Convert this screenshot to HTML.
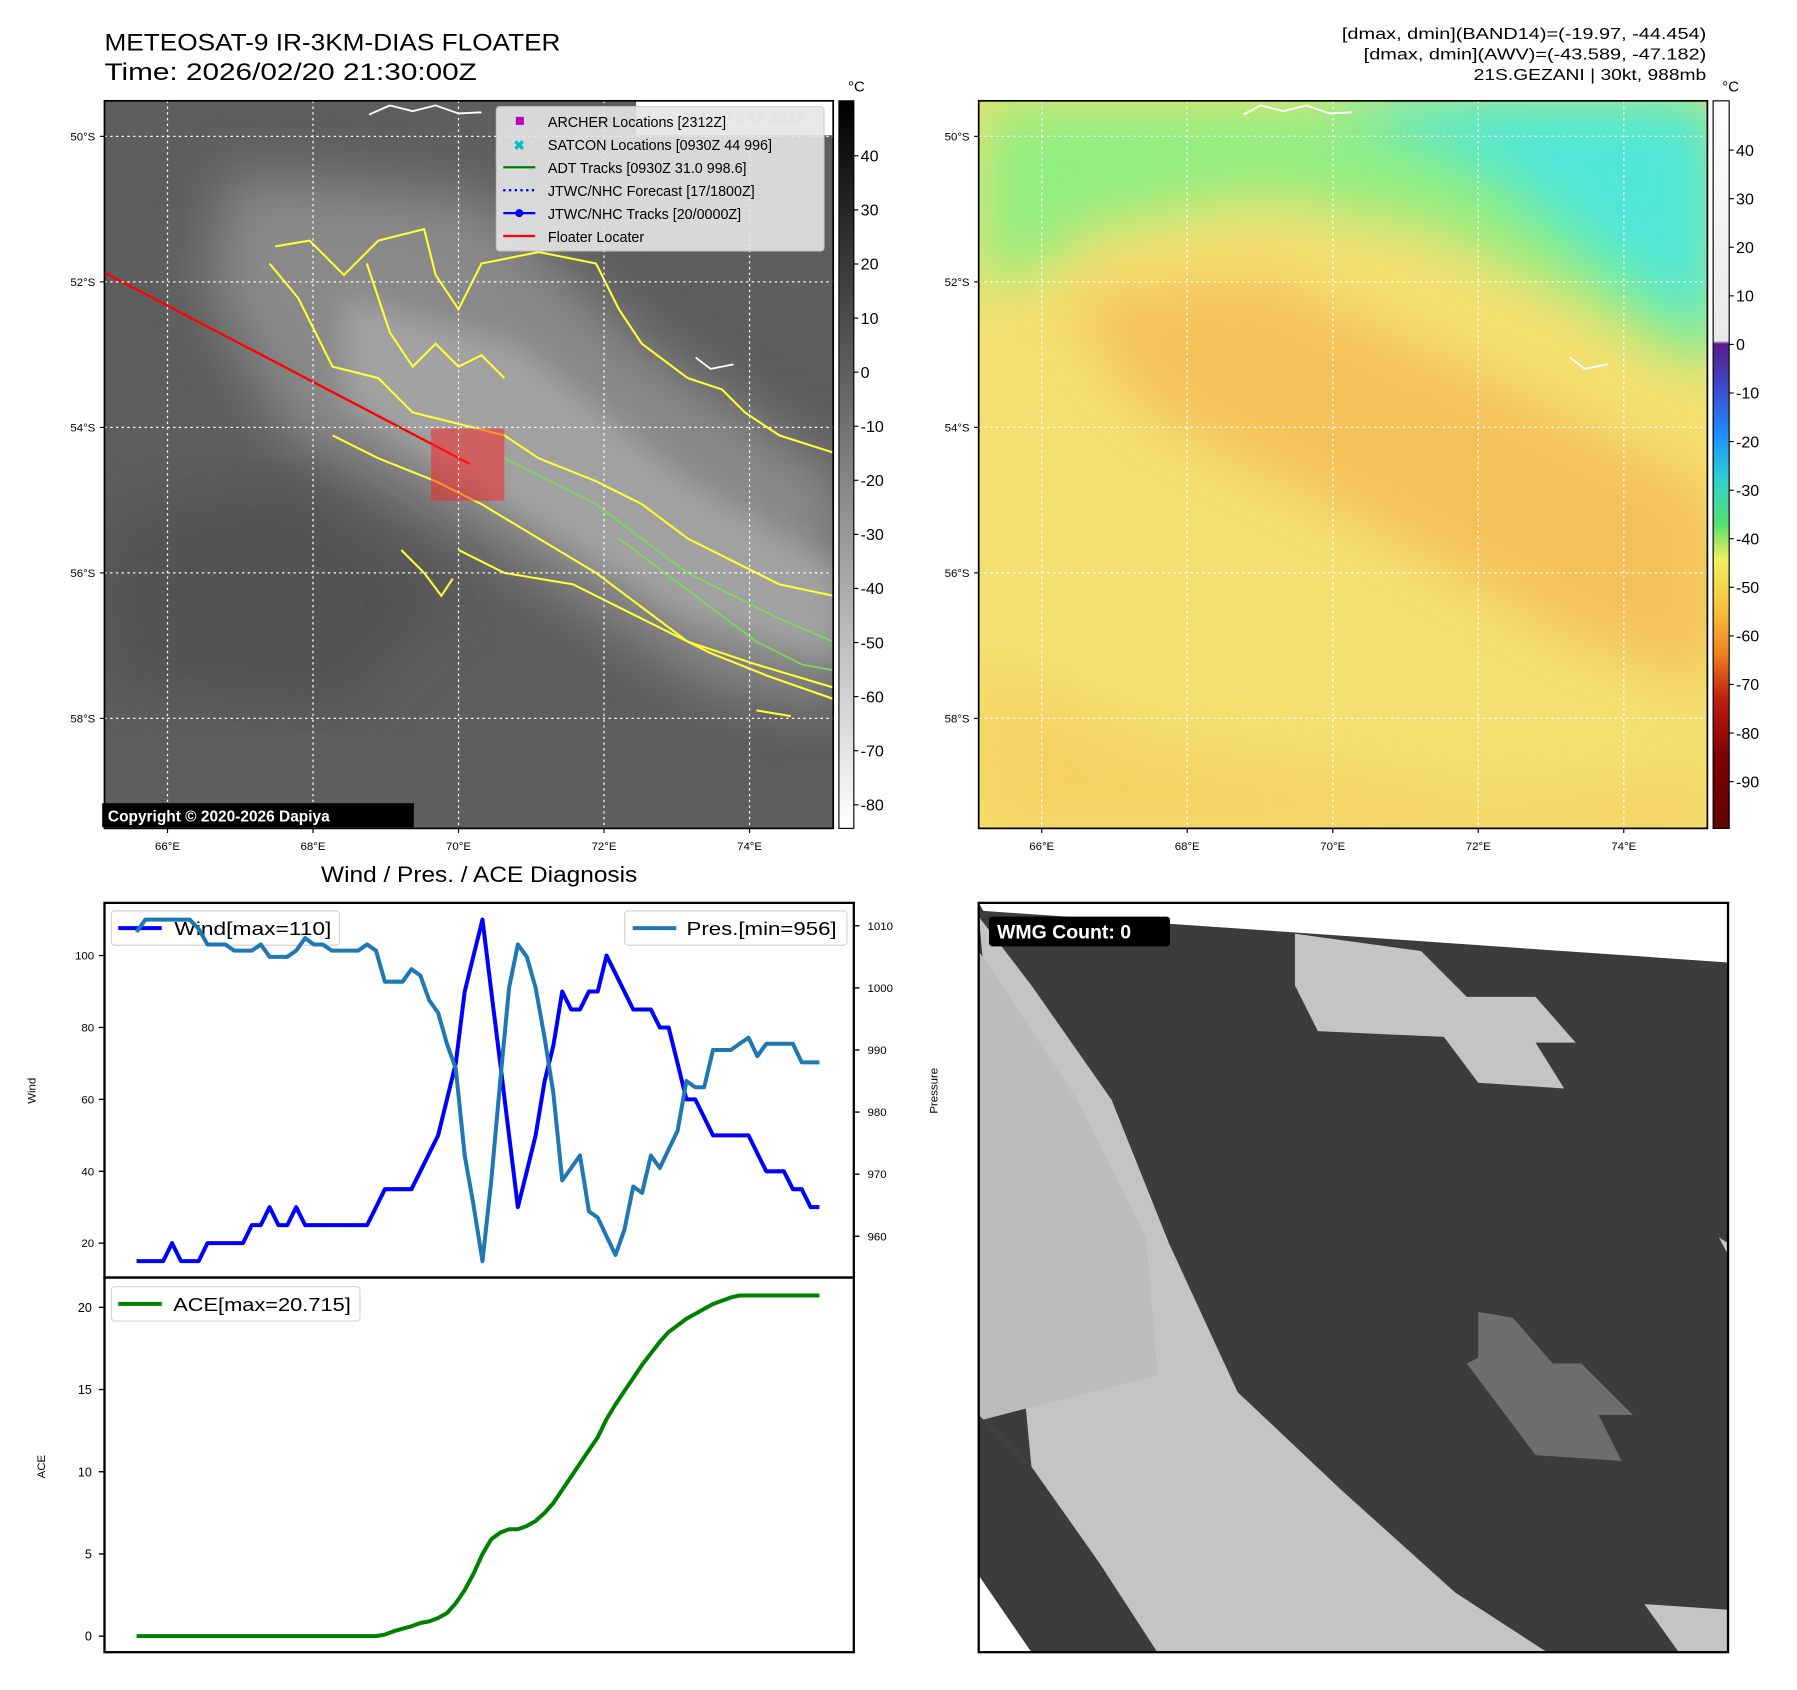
<!DOCTYPE html>
<html><head><meta charset="utf-8"><style>
html,body{margin:0;padding:0;background:#fff;}
svg{display:block;font-family:"Liberation Sans",sans-serif;}
</style></head><body>
<svg id="fig" width="1797" height="1690" viewBox="0 0 1568 1475" xmlns="http://www.w3.org/2000/svg">
<defs>
<linearGradient id="cbGray" x1="0" y1="0" x2="0" y2="1"><stop offset="0" stop-color="#000"/><stop offset="1" stop-color="#fff"/></linearGradient>
<linearGradient id="cbColor" x1="0" y1="0" x2="0" y2="1">
<stop offset="0" stop-color="#ffffff"/><stop offset="0.33" stop-color="#e8e8e8"/><stop offset="0.334" stop-color="#5a1a8a"/>
<stop offset="0.40" stop-color="#3a50d0"/><stop offset="0.46" stop-color="#1e90ff"/><stop offset="0.52" stop-color="#30d0d0"/>
<stop offset="0.58" stop-color="#50e070"/><stop offset="0.63" stop-color="#f0f060"/><stop offset="0.70" stop-color="#f8c040"/>
<stop offset="0.76" stop-color="#f08020"/><stop offset="0.82" stop-color="#c02010"/><stop offset="0.9" stop-color="#800000"/><stop offset="1" stop-color="#600000"/></linearGradient>
<filter id="blur20"><feGaussianBlur stdDeviation="25"/></filter>
<filter id="blur10"><feGaussianBlur stdDeviation="12"/></filter>
<clipPath id="clipL"><rect x="91" y="88" width="636" height="635"/></clipPath>
<clipPath id="clipR"><rect x="854" y="88" width="636" height="635"/></clipPath>
<clipPath id="clipB"><rect x="854" y="788" width="654" height="654"/></clipPath>
</defs>

<text x="91" y="44" font-size="21" textLength="398" lengthAdjust="spacingAndGlyphs">METEOSAT-9 IR-3KM-DIAS FLOATER</text>
<text x="91" y="70" font-size="21" textLength="325" lengthAdjust="spacingAndGlyphs">Time: 2026/02/20 21:30:00Z</text>
<g font-size="14" text-anchor="end">
<text x="1489" y="34" textLength="318" lengthAdjust="spacingAndGlyphs">[dmax, dmin](BAND14)=(-19.97, -44.454)</text>
<text x="1489" y="52" textLength="299" lengthAdjust="spacingAndGlyphs">[dmax, dmin](AWV)=(-43.589, -47.182)</text>
<text x="1489" y="70" textLength="203" lengthAdjust="spacingAndGlyphs">21S.GEZANI | 30kt, 988mb</text>
</g>

<!-- IR map -->
<g clip-path="url(#clipL)">
<rect x="91" y="88" width="636" height="635" fill="#5e5e5e"/>
<polygon points="200,150 420,170 560,300 740,420 740,620 620,600 420,470 250,380 180,250" fill="#8e8e8e" filter="url(#blur20)" opacity="0.9"/>
<polygon points="300,260 450,300 600,420 740,500 740,580 600,540 420,430 300,350" fill="#acacac" filter="url(#blur10)" opacity="0.7"/>
<polygon points="91,450 250,420 400,520 300,620 91,600" fill="#525252" filter="url(#blur20)"/>
<rect x="555" y="88" width="172" height="30" fill="#fff"/>
<text x="640" y="108" font-size="14" font-weight="bold" fill="#ccc" text-anchor="middle">© EUMETSAT 2026</text>
<g fill="none" stroke="#ffff33" stroke-width="1.8">
<path d="M240,215 L270,210 L300,240 L330,210 L370,200 L380,240 L400,270 L420,230 L470,220 L520,230 L540,270 L560,300 L600,330 L630,340 L650,360 L680,380 L727,395"/>
<path d="M235,230 L260,260 L290,320 L330,330 L360,360 L400,370 L440,380 L470,400 L520,420 L560,440 L600,470 L640,490 L680,510 L727,520"/>
<path d="M290,380 L330,400 L380,420 L420,440 L470,470 L520,500 L560,530 L600,560 L660,580 L727,600"/>
<path d="M400,480 L440,500 L500,510 L560,540 L620,570 L670,590 L727,610"/>
<path d="M320,230 L340,290 L360,320 L380,300 L400,320 L420,310 L440,330"/>
<path d="M350,480 L370,500 L385,520 L395,505"/>
<path d="M660,620 L690,625"/>
</g>
<g fill="none" stroke="#7ed957" stroke-width="1.5">
<path d="M440,400 L480,420 L520,440 L560,470 L600,500 L640,520 L680,540 L727,560"/>
<path d="M540,470 L580,500 L620,530 L660,560 L700,580 L727,585"/>
</g>
<g fill="none" stroke="#fff" stroke-width="1.6">
<path d="M322,100 L340,92 L360,97 L380,92 L400,99 L420,98"/>
<path d="M607,312 L620,322 L640,318"/>
</g>
<line x1="91" y1="238" x2="410" y2="405" stroke="#ff0000" stroke-width="2"/>
<rect x="376" y="374" width="64" height="63" fill="#ff2020" opacity="0.5"/>
<g stroke="#fff" stroke-width="1.1" stroke-dasharray="2,3">
<line x1="146" y1="88" x2="146" y2="723"/><line x1="273" y1="88" x2="273" y2="723"/><line x1="400" y1="88" x2="400" y2="723"/><line x1="527" y1="88" x2="527" y2="723"/><line x1="654" y1="88" x2="654" y2="723"/>
<line x1="91" y1="119" x2="727" y2="119"/><line x1="91" y1="246" x2="727" y2="246"/><line x1="91" y1="373" x2="727" y2="373"/><line x1="91" y1="500" x2="727" y2="500"/><line x1="91" y1="627" x2="727" y2="627"/>
</g>
</g>
<rect x="91" y="88" width="636" height="635" fill="none" stroke="#000" stroke-width="1.5"/>
<g>
<rect x="433" y="93" width="286" height="126" rx="3" fill="#e6e6e6" opacity="0.9" stroke="#ccc"/>
<g font-size="12.5" fill="#000">
<rect x="450" y="102" width="7" height="7" fill="#c000c0"/><text x="478" y="111">ARCHER Locations [2312Z]</text>
<text x="448" y="131" fill="#00c0c0" font-weight="bold" font-size="12">✖</text><text x="478" y="131">SATCON Locations [0930Z 44 996]</text>
<line x1="439" y1="146" x2="467" y2="146" stroke="#008000" stroke-width="2"/><text x="478" y="151">ADT Tracks [0930Z 31.0 998.6]</text>
<line x1="439" y1="166" x2="467" y2="166" stroke="#00f" stroke-width="2" stroke-dasharray="2,3"/><text x="478" y="171">JTWC/NHC Forecast [17/1800Z]</text>
<line x1="439" y1="186" x2="467" y2="186" stroke="#00f" stroke-width="2"/><circle cx="453" cy="186" r="3.5" fill="#00f"/><text x="478" y="191">JTWC/NHC Tracks [20/0000Z]</text>
<line x1="439" y1="206" x2="467" y2="206" stroke="#f00" stroke-width="2"/><text x="478" y="211">Floater Locater</text>
</g></g>
<g><rect x="89" y="701" width="272" height="21" fill="#000"/><text x="94" y="717" font-size="13.5" font-weight="bold" fill="#fff">Copyright © 2020-2026 Dapiya</text></g>
<rect x="732" y="88" width="13" height="635" fill="url(#cbGray)" stroke="#000"/>
<text x="740" y="80" font-size="13">°C</text>

<!-- AWV map -->
<g clip-path="url(#clipR)">
<rect x="854" y="88" width="636" height="635" fill="#f4e070"/>
<polygon points="854,88 1500,88 1500,330 1380,260 1250,200 1100,170 950,200 900,240 854,250" fill="#90ee80" filter="url(#blur20)"/>
<polygon points="1150,88 1500,88 1500,300 1400,230 1300,150" fill="#50e6d8" filter="url(#blur20)"/>
<polygon points="930,260 1100,240 1300,330 1500,430 1500,600 1380,560 1200,460 1000,360" fill="#f4b450" filter="url(#blur20)" opacity="0.7"/>
<polygon points="854,580 1000,650 1300,700 1500,680 1500,730 854,730" fill="#f4c858" filter="url(#blur20)" opacity="0.6"/>
<g fill="none" stroke="#fff" stroke-width="1.6"><path d="M1085,100 L1100,92 L1120,97 L1140,92 L1160,99 L1180,98"/><path d="M1370,312 L1383,322 L1403,318"/></g>
<g stroke="#fff" stroke-width="1.1" stroke-dasharray="2,3">
<line x1="909" y1="88" x2="909" y2="723"/><line x1="1036" y1="88" x2="1036" y2="723"/><line x1="1163" y1="88" x2="1163" y2="723"/><line x1="1290" y1="88" x2="1290" y2="723"/><line x1="1417" y1="88" x2="1417" y2="723"/>
<line x1="854" y1="119" x2="1490" y2="119"/><line x1="854" y1="246" x2="1490" y2="246"/><line x1="854" y1="373" x2="1490" y2="373"/><line x1="854" y1="500" x2="1490" y2="500"/><line x1="854" y1="627" x2="1490" y2="627"/>
</g></g>
<rect x="854" y="88" width="636" height="635" fill="none" stroke="#000" stroke-width="1.5"/>
<rect x="1495" y="88" width="14" height="635" fill="url(#cbColor)" stroke="#000"/>
<text x="1503" y="80" font-size="13">°C</text>

<g id="mapTicks" font-size="10"></g>

<!-- WMG panel -->
<g clip-path="url(#clipB)">
<rect x="854" y="788" width="654" height="654" fill="#3c3c3c"/>
<polygon points="854,788 1508,788 1508,840 858,795" fill="#fff"/>
<polygon points="854,800 900,860 970,960 1020,1085 1080,1215 1170,1300 1270,1390 1350,1442 854,1442 854,1235 900,1280" fill="#c4c4c4"/>
<polygon points="854,830 940,960 1000,1080 1010,1200 854,1240" fill="#bcbcbc"/>
<polygon points="854,1235 900,1280 960,1365 1010,1442 854,1442" fill="#3c3c3c"/>
<polygon points="854,1375 900,1442 854,1442" fill="#fff"/>
<polygon points="1130,815 1240,830 1280,870 1340,870 1375,910 1340,910 1365,950 1290,945 1260,905 1150,900 1130,860" fill="#c4c4c4"/>
<polygon points="1290,1145 1320,1150 1355,1190 1380,1190 1425,1235 1395,1235 1415,1275 1340,1270 1280,1190 1290,1185" fill="#6e6e6e"/>
<polygon points="960,1365 1060,1375 1150,1400 1200,1442 1010,1442" fill="#c4c4c4"/>
<polygon points="1435,1400 1508,1405 1508,1442 1465,1442" fill="#c4c4c4"/>
<polygon points="1500,1080 1508,1085 1508,1095" fill="#c4c4c4"/>
</g>
<rect x="854" y="788" width="654" height="654" fill="none" stroke="#000" stroke-width="2"/>
<g><rect x="863" y="800" width="158" height="26" rx="3" fill="#000"/><text x="870" y="819" font-size="17" font-weight="bold" fill="#fff">WMG Count: 0</text></g>

<!-- Diagnosis chart -->
<text x="418" y="770" font-size="19" text-anchor="middle" textLength="276" lengthAdjust="spacingAndGlyphs">Wind / Pres. / ACE Diagnosis</text>
<g><rect x="97" y="795" width="199" height="30" rx="3" fill="#fff" opacity="0.85" stroke="#ccc"/><line x1="103" y1="810" x2="141" y2="810" stroke="#0000ff" stroke-width="3.5"/><text x="152" y="816" font-size="16" textLength="137" lengthAdjust="spacingAndGlyphs">Wind[max=110]</text></g>
<g><rect x="545" y="795" width="194" height="30" rx="3" fill="#fff" opacity="0.85" stroke="#ccc"/><line x1="552" y1="810" x2="590" y2="810" stroke="#1f77b4" stroke-width="3.5"/><text x="599" y="816" font-size="16" textLength="131" lengthAdjust="spacingAndGlyphs">Pres.[min=956]</text></g>
<g><rect x="97" y="1123" width="217" height="30" rx="3" fill="#fff" opacity="0.85" stroke="#ccc"/><line x1="103" y1="1138" x2="141" y2="1138" stroke="#008000" stroke-width="3.5"/><text x="151" y="1144" font-size="16" textLength="155" lengthAdjust="spacingAndGlyphs">ACE[max=20.715]</text></g>
<g id="chart"></g>
<rect x="91" y="788" width="654" height="327" fill="none" stroke="#000" stroke-width="2"/>
<rect x="91" y="1115" width="654" height="327" fill="none" stroke="#000" stroke-width="2"/>
<text transform="translate(31,952) rotate(-90)" font-size="10" text-anchor="middle">Wind</text>
<text transform="translate(818,952) rotate(-90)" font-size="10" text-anchor="middle">Pressure</text>
<text transform="translate(39,1280) rotate(-90)" font-size="10" text-anchor="middle">ACE</text>
</svg>
<script>
const wind=[15,15,15,15,20,15,15,15,20,20,20,20,20,25,25,30,25,25,30,25,25,25,25,25,25,25,25,30,35,35,35,35,40,45,50,60,70,90,100,110,90,70,50,30,40,50,65,75,90,85,85,90,90,100,95,90,85,85,85,80,80,70,60,60,55,50,50,50,50,50,45,40,40,40,35,35,30,30];
const pres=[1009,1011,1011,1011,1011,1011,1011,1009.5,1007,1007,1007,1006,1006,1006,1007,1005,1005,1005,1006,1008,1007,1007,1006,1006,1006,1006,1007,1006,1001,1001,1001,1003,1002,998,996,991,987,973,965,956,969,985,1000,1007,1005,1000,992,983,969,971,973,964,963,960,957,961,968,967,973,971,974,977,985,984,984,990,990,990,991,992,989,991,991,991,991,988,988,988];
const ace=[0,0,0,0,0,0,0,0,0,0,0,0,0,0,0,0,0,0,0,0,0,0,0,0,0,0,0,0,0.1,0.3,0.45,0.6,0.8,0.9,1.1,1.4,2,2.8,3.8,5,5.9,6.3,6.5,6.5,6.7,7,7.5,8.1,8.9,9.7,10.5,11.3,12.1,13.2,14.1,14.9,15.7,16.5,17.2,17.9,18.5,18.9,19.3,19.6,19.9,20.2,20.4,20.6,20.715,20.715,20.715,20.715,20.715,20.715,20.715,20.715,20.715,20.715];
const windTicks=[20,40,60,80,100];
const presTicks=[960,970,980,990,1000,1010];
const aceTicks=[0,5,10,15,20];
const lonTicks=["66°E","68°E","70°E","72°E","74°E"];
const latTicks=["50°S","52°S","54°S","56°S","58°S"];
const irCbTicks=[40,30,20,10,0,-10,-20,-30,-40,-50,-60,-70,-80];
const awvCbTicks=[40,30,20,10,0,-10,-20,-30,-40,-50,-60,-70,-80,-90];
const NS="http://www.w3.org/2000/svg";
const xi=i=>119+i*(596/(wind.length-1));
const wy=v=>834-(v-100)*3.1375;
const py=p=>808-(p-1010)*5.42;
const ay=a=>1428-a*14.35;
const irY=t=>136+(40-t)*4.72;
const awvY=t=>131+(40-t)*4.24;
function mk(tag,attrs,parent,text){const e=document.createElementNS(NS,tag);for(const k in attrs)e.setAttribute(k,attrs[k]);if(text!==undefined)e.textContent=text;parent.appendChild(e);return e;}
const chart=document.getElementById('chart');
function line(arr,fy,color,name){
 const p=mk('polyline',{points:arr.map((v,i)=>xi(i).toFixed(1)+','+fy(v).toFixed(1)).join(' '),fill:'none',stroke:color,'stroke-width':3.5,'stroke-linejoin':'round'},chart);
 
 
}
line(wind,wy,'#0000ff','wind-line');
line(pres,py,'#1f77b4','pressure-line');
line(ace,ay,'#008000','ace-line');
function tick(x1,y1,x2,y2,tx,ty,anchor,label,name,fs){
 const g=mk('g',{},chart);
 
 
 mk('line',{x1,y1,x2,y2,stroke:'#000','stroke-width':1.2},g);
 mk('text',{x:tx,y:ty,'font-size':fs||10,'text-anchor':anchor},g,label);
}
windTicks.forEach(v=>tick(86,wy(v),91,wy(v),82,wy(v)+3.5,'end',v,'wind-tick'));
presTicks.forEach(v=>tick(745,py(v),750,py(v),757,py(v)+3.5,'start',v,'pressure-tick'));
aceTicks.forEach(v=>tick(86,ay(v),91,ay(v),80,ay(v)+4,'end',v,'ace-tick',11));
const mt=document.getElementById('mapTicks');
[[91,727,1],[854,1490,2]].forEach(([x0,x1,k])=>{
 lonTicks.forEach((l,i)=>{const x=x0+55+i*127;
  const g=mk('g',{},mt);
  
  
  mk('line',{x1:x,y1:723,x2:x,y2:727,stroke:'#000'},g);
  mk('text',{x:x,y:742,'text-anchor':'middle'},g,l);});
 latTicks.forEach((l,i)=>{const y=119+i*127;
  const g=mk('g',{},mt);
  
  
  mk('line',{x1:x0-4,y1:y,x2:x0,y2:y,stroke:'#000'},g);
  mk('text',{x:x0-8,y:y+3.5,'text-anchor':'end'},g,l);});
});
irCbTicks.forEach(v=>{const g=mk('g',{},mt);
 
 
 mk('line',{x1:745,y1:irY(v),x2:749,y2:irY(v),stroke:'#000'},g);
 mk('text',{x:751,y:irY(v)+5,'font-size':14},g,v);});
awvCbTicks.forEach(v=>{const g=mk('g',{},mt);
 
 
 mk('line',{x1:1509,y1:awvY(v),x2:1513,y2:awvY(v),stroke:'#000'},g);
 mk('text',{x:1515,y:awvY(v)+5,'font-size':14},g,v);});
</script>
</body></html>
